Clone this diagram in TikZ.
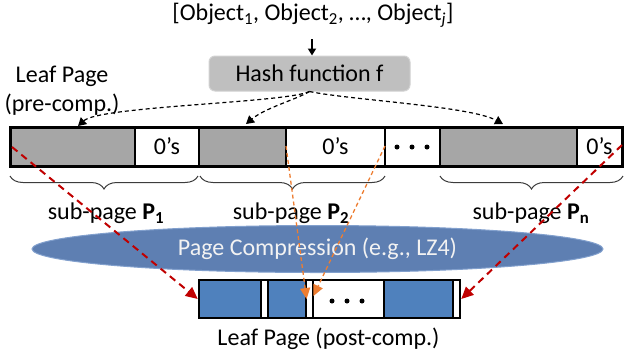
\documentclass[tikz,border=0pt]{standalone}
\usepackage{fontspec}
\setmainfont{Carlito}
\usetikzlibrary{arrows.meta,shapes.geometric,decorations.pathreplacing,calc}
\definecolor{cellgray}{RGB}{166,166,166}
\definecolor{hashgray}{RGB}{191,191,191}
\definecolor{hashborder}{RGB}{210,210,210}
\definecolor{segblue}{RGB}{79,129,189}
\definecolor{ellblue}{RGB}{94,127,178}
\definecolor{ellborder}{RGB}{130,160,205}
\definecolor{arrorange}{RGB}{237,125,49}
\definecolor{arrred}{RGB}{192,0,0}
\definecolor{bracegray}{RGB}{60,60,60}
\tikzset{
  cell/.style={draw=black, line width=1.5pt, inner sep=0pt, minimum height=39pt},
  bcell/.style={draw=black, line width=1.2pt, inner sep=0pt, minimum height=38pt},
  outline/.style={draw=black, inner sep=0pt},
  hashbox/.style={fill=hashgray, draw=hashborder, line width=1pt, rounded corners=6pt,
    minimum width=201pt, minimum height=35pt, inner sep=0pt},
  dasharrow/.style={draw=black, line width=1.2pt, dash pattern=on 4pt off 3pt,
    -{Triangle[width=9pt,length=8pt]}},
  orangearrow/.style={draw=arrorange, line width=1.3pt, dash pattern=on 4pt off 3pt,
    -{Triangle[width=10pt,length=11pt]}},
  redarrow/.style={draw=arrred, line width=2pt, dash pattern=on 7pt off 5pt,
    -{Triangle[width=11pt,length=12pt]}},
  bracedeco/.style={draw=bracegray, line width=1pt, decorate, decoration={brace, amplitude=13pt}},
}
\begin{document}
\begin{tikzpicture}[x=1pt,y=-1pt, font=\fontsize{24}{29}\selectfont]
\useasboundingbox (0,0) rectangle (624,360);

% title and hash function
\node (title) at (313,15) {[Object\textsubscript{1}, Object\textsubscript{2}, …, Object\textsubscript{\textit{j}}]};
\node[hashbox] (hash) at (309.5,73.5) {Hash function f};
\coordinate (arrtop) at (312,39);
\draw[line width=2pt, -{Triangle[width=8pt,length=7pt]}] (arrtop) -- (arrtop |- hash.north);

\node[align=center] (leafpre) at (62,91) {Leaf Page\\(pre-comp.)};

% top leaf page
\node[cell, fill=cellgray, minimum width=125pt] (g1) at (72.5,146.5) {};
\node[cell, fill=white, minimum width=64pt] (z1) at (167,146.5) {0’s};
\node[cell, fill=cellgray, minimum width=87pt] (g2) at (242.5,146.5) {};
\node[cell, fill=white, minimum width=99pt] (z2) at (335.5,146.5) {0’s};
\node[cell, fill=white, minimum width=55pt] (d1) at (412.5,146.5) {};
\node[cell, fill=cellgray, minimum width=137pt] (g3) at (508.5,146.5) {};
\node[cell, fill=white, minimum width=45pt] (z3) at (599.5,146.5) {0’s};
\node[outline, line width=3pt, minimum width=612pt, minimum height=39pt] (toppage) at (316,146.5) {};
\fill (397,147) circle (2.5pt);
\fill (412,147) circle (2.5pt);
\fill (427,147) circle (2.5pt);

% braces
\coordinate (br1a) at (198,176); \coordinate (br1b) at (10,176);
\coordinate (br2a) at (385,176); \coordinate (br2b) at (200,176);
\coordinate (br3a) at (623,176); \coordinate (br3b) at (440,176);
\draw[bracedeco] (br1a) -- (br1b);
\draw[bracedeco] (br2a) -- (br2b);
\draw[bracedeco] (br3a) -- (br3b);

\node (sp1) at (106,213) {sub-page \textbf{P}\textsubscript{\textbf{1}}};
\node (sp2) at (291,213) {sub-page \textbf{P}\textsubscript{\textbf{2}}};
\node (spn) at (531,213) {sub-page \textbf{P}\textsubscript{\textbf{n}}};

% compression ellipse
\node[ellipse, fill=ellblue, draw=ellborder, line width=1pt, minimum width=571pt,
  minimum height=47pt, inner sep=0pt, text={rgb,255:red,242;green,242;blue,242}]
  (comp) at (317.5,249) {Page Compression (e.g., LZ4)};

% bottom leaf page
\node[bcell, fill=segblue, minimum width=62pt] (b1) at (230,299) {};
\node[bcell, fill=white, minimum width=7pt] (w1) at (264.5,299) {};
\node[bcell, fill=segblue, minimum width=38pt] (b2) at (287,299) {};
\node[bcell, fill=white, minimum width=7pt] (w2) at (309.5,299) {};
\node[bcell, fill=white, minimum width=71pt] (dd) at (348.5,299) {};
\node[bcell, fill=segblue, minimum width=69pt] (b3) at (418.5,299) {};
\node[bcell, fill=white, minimum width=7pt] (w3) at (456.5,299) {};
\node[outline, line width=2.5pt, minimum width=261pt, minimum height=38pt] (bot) at (329.5,299) {};
\fill (332,301) circle (2.5pt);
\fill (347,301) circle (2.5pt);
\fill (362,301) circle (2.5pt);

\node (leafpost) at (328.5,339) {Leaf Page (post-comp.)};

% hash arrows
\coordinate (t1) at (78,126);
\coordinate (t2) at (246,124);
\coordinate (t3) at (503,124);
\draw[dasharrow] (hash.south) .. controls (285,103) and (100,106) .. (t1);
\draw[dasharrow] (hash.south) .. controls (295,100) and (265,108) .. (t2);
\draw[dasharrow] (hash.south) .. controls (350,100) and (470,106) .. (t3);

% compression arrows
\coordinate (o1) at (286,146);
\coordinate (o2) at (385,146);
\coordinate (r1) at (12,147);
\coordinate (r2) at (622,145);
\coordinate (o2end) at ($(dd.west)+(1,-3)$);
\draw[orangearrow] (o1) -- (b2.east);
\draw[orangearrow] (o2) -- (o2end);
\draw[redarrow] (r1) -- (bot.west);
\draw[redarrow] (r2) -- (bot.east);
\end{tikzpicture}
\end{document}
